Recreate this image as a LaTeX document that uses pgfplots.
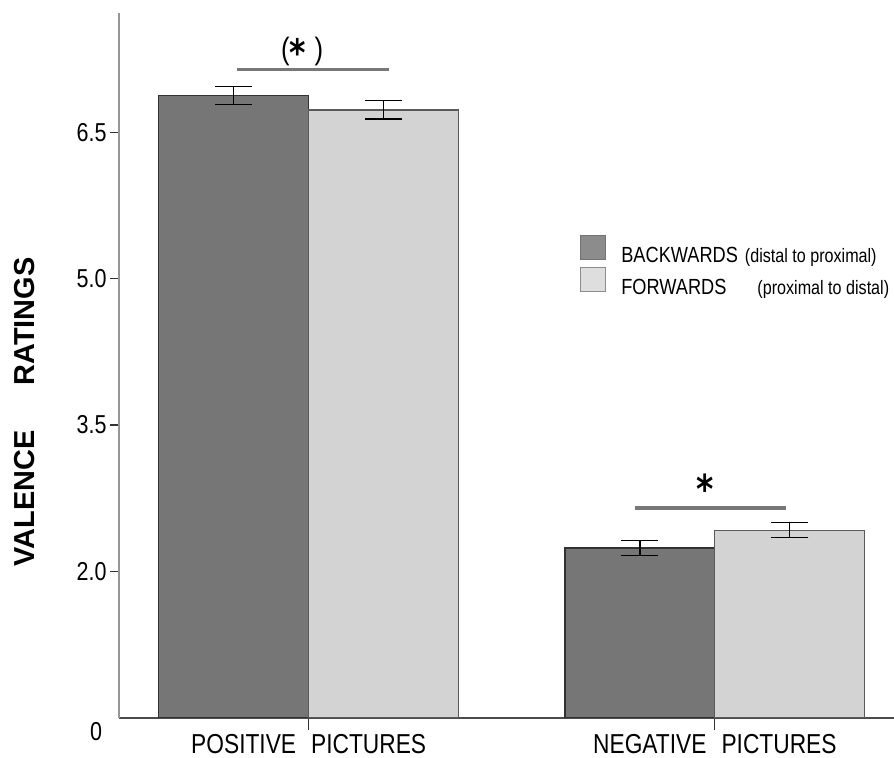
\documentclass[border=0pt]{standalone}
\usepackage{fontspec}
\setmainfont{Liberation Sans}[FakeStretch=0.83]
\newfontfamily\ylabfont{Liberation Sans}
\newfontfamily\starfont{DejaVu Sans}[FakeStretch=0.83]
\usepackage{pgfplots}
\pgfplotsset{compat=1.18}
\definecolor{darkbar}{RGB}{118,118,118}
\definecolor{lightbar}{RGB}{211,211,211}
\definecolor{darkleg}{RGB}{140,140,140}
\definecolor{lightleg}{RGB}{222,222,222}
\definecolor{edge}{RGB}{50,50,50}
\definecolor{edgelight}{RGB}{90,90,90}
\definecolor{sigline}{RGB}{120,120,120}
\definecolor{axisgray}{RGB}{150,150,150}
\begin{document}
\begin{tikzpicture}
\useasboundingbox (0,0) rectangle (894bp,758bp);
\begin{axis}[
  at={(119bp,40bp)}, anchor=south west,
  scale only axis, width=775bp, height=705bp,
  xmin=-0.467, xmax=1.441, ymin=0.5, ymax=7.72,
  axis x line=bottom, axis y line=left,
  axis line style={-},
  x axis line style={draw=black!70, line width=1.2bp},
  y axis line style={draw=axisgray, line width=1.4bp},
  ybar=0pt, bar width=0.369,
  xtick={0,1},
  xticklabels={POSITIVE\hspace{0.55em}PICTURES, NEGATIVE\hspace{0.55em}PICTURES},
  ytick={2,3.5,5,6.5},
  /pgf/number format/assume math mode=true,
  tick align=outside,
  xtick style={black!80, line width=1.2bp, /pgfplots/major tick length=12bp},
  ytick style={black!80, line width=1.2bp, /pgfplots/major tick length=9bp},
  yticklabel style={font=\fontsize{26}{28}\selectfont, inner sep=2bp, xshift=-6bp,
    /pgf/number format/fixed, /pgf/number format/fixed zerofill,
    /pgf/number format/precision=1},
  xticklabel style={font=\fontsize{27.5}{30}\selectfont, inner sep=0pt, yshift=-12bp},
  legend style={at={(0.5949,0.6851)}, anchor=north west, draw=none, fill=none,
    inner sep=0pt, row sep=3bp, font=\fontsize{22}{24}\selectfont,
    nodes={inner sep=0pt}},
  legend cell align=left,
]
\addplot[fill=darkbar, draw=edge, line width=1.2bp,
  legend image code/.code={\draw[fill=darkleg, draw=black!55, line width=1bp] (0bp,-4bp) rectangle (25bp,20bp); \path (40bp,0);},
  error bars/.cd, y dir=both, y explicit,
  error bar style={black, line width=1.3bp},
  error mark options={black, line width=1.3bp, mark size=18.5bp, rotate=90}]
  coordinates {(0,6.874) +- (0,0.090) (1,2.240) +- (0,0.077)};
\addlegendentry{BACKWARDS\hspace{7bp}{\fontsize{19.5}{20}\selectfont(distal to proximal)}}
\addplot[fill=lightbar, draw=edgelight, line width=1.2bp,
  legend image code/.code={\draw[fill=lightleg, draw=black!45, line width=1bp] (0bp,-4bp) rectangle (25bp,20bp); \path (40bp,0);},
  error bars/.cd, y dir=both, y explicit,
  error bar style={black, line width=1.3bp},
  error mark options={black, line width=1.3bp, mark size=18.5bp, rotate=90}]
  coordinates {(0,6.727) +- (0,0.094) (1,2.422) +- (0,0.077)};
\addlegendentry{FORWARDS\hspace{31bp}{\fontsize{19.5}{20}\selectfont(proximal to distal)}}
\draw[sigline, line width=3.3bp] (axis cs:-0.1765,7.14) -- (axis cs:0.1976,7.14);
\draw[sigline, line width=3.3bp] (axis cs:0.803,2.65) -- (axis cs:1.175,2.65);
\node[anchor=north, inner sep=0pt, font=\fontsize{31}{31}\selectfont] at (axis cs:-0.0576,7.476) {(};
\node[anchor=north, inner sep=0pt, font=\fontsize{31}{31}\selectfont] at (axis cs:0.0249,7.476) {)};
\node[anchor=north, inner sep=0pt, font=\starfont\bfseries\fontsize{38}{38}\selectfont]
  at (axis cs:-0.0276,7.463) {*};
\node[anchor=north, inner sep=0pt, font=\starfont\bfseries\fontsize{40}{40}\selectfont]
  at (axis cs:0.975,3.004) {*};
\end{axis}
\node[rotate=90, font=\ylabfont\bfseries\fontsize{29}{30}\selectfont] at (25bp,346bp)
  {VALENCE\hspace{45bp}RATINGS};
\node[font=\fontsize{26}{28}\selectfont, inner sep=0pt] at (96bp,26bp) {0};
\end{tikzpicture}
\end{document}
